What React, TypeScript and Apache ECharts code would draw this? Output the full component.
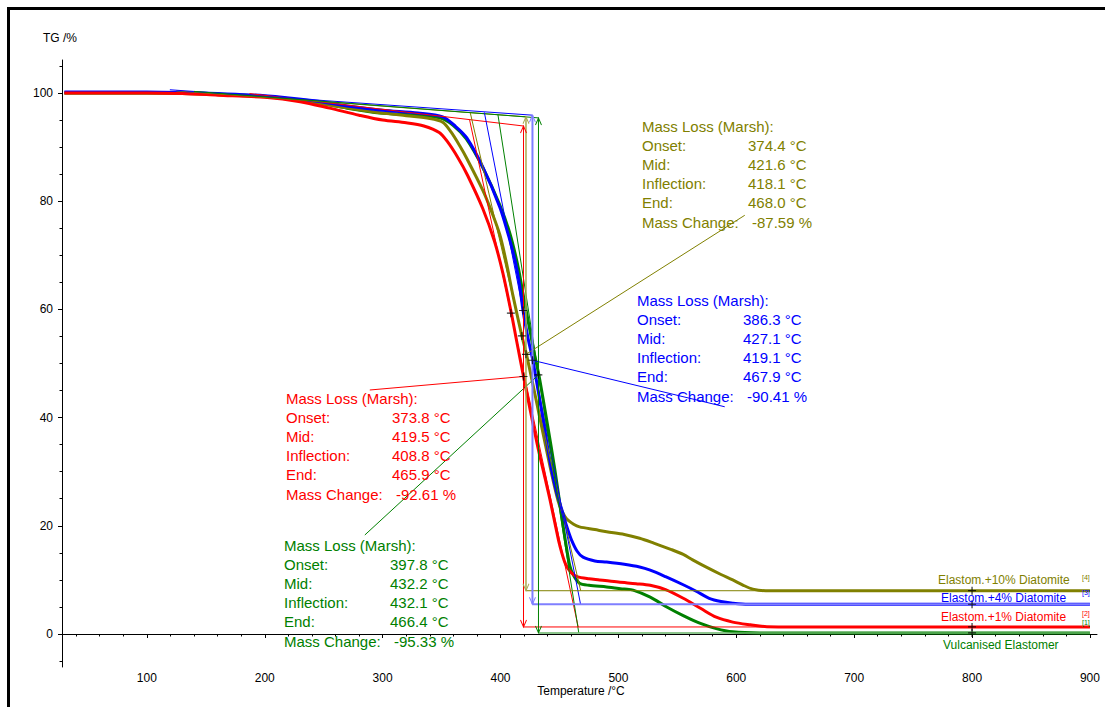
import React, { useEffect, useRef } from 'react';
import * as echarts from 'echarts';

// ---------- data ----------
const X_LABELS = [100, 200, 300, 400, 500, 600, 700, 800, 900];
const X_MINOR = [40, 60, 80, 120, 140, 160, 180, 220, 240, 260, 280, 320, 340, 360, 380, 420, 440, 460, 480, 520, 540, 560, 580, 620, 640, 660, 680, 720, 740, 760, 780, 820, 840, 860, 880];
const Y_LABELS = [0, 20, 40, 60, 80, 100];
const Y_MINOR = [-5, 5, 10, 15, 25, 30, 35, 45, 50, 55, 65, 70, 75, 85, 90, 95, 105];

// Elastom.+1% Diatomite (red)
const red: [number, number][] = [
  [30, 100.0], [100, 100.0], [130, 99.9], [160, 99.6], [200, 99.2], [230, 98.4], [255, 97.2], [280, 95.9],
  [300, 95.0], [320, 94.5], [335, 93.9], [348, 92.7], [355, 91.0], [364, 88.0], [372, 84.8], [385, 78.6],
  [395, 72.5], [402, 66.7], [409, 59.5], [414, 53.8], [419.5, 47.6], [425, 41.6], [432, 34.2], [438, 28.6],
  [442, 24.8], [447, 19.6], [450, 16.6], [455, 13.0], [460, 11.3], [465, 10.6], [475, 10.2], [484, 10.0],
  [500, 9.6], [515, 9.3], [527, 9.0], [540, 8.2], [555, 6.6], [570, 4.7], [583, 3.1], [597, 2.2],
  [612, 1.7], [626, 1.35], [650, 1.3], [900, 1.3],
];
// Elastom.+10% Diatomite (olive)
const olive: [number, number][] = [
  [30, 100.0], [100, 100.0], [130, 99.9], [160, 99.7], [200, 99.3], [230, 98.6], [260, 97.6], [290, 96.6],
  [320, 95.8], [340, 95.3], [351, 94.6], [358, 92.8], [365.5, 90.2], [371.4, 87.9], [385, 82.0], [392, 78.3],
  [399.4, 73.8], [405, 68.6], [410.7, 62.4], [418.1, 55.1], [422, 51.7], [427.6, 46.0], [433, 40.3], [440, 33.0],
  [445, 28.0], [449, 24.5], [452, 22.8], [456, 21.3], [462, 20.3], [467, 19.8], [480, 19.3], [490, 18.9], [505, 18.4],
  [518, 17.7], [530, 16.8], [545, 15.6], [555, 14.7], [563, 13.7], [575, 12.3], [587, 11.0], [597, 10.0],
  [606, 9.0], [614, 8.3], [625, 8.0], [900, 8.0],
];
// Elastom.+4% Diatomite (blue)
const blue: [number, number][] = [
  [30, 100.2], [100, 100.2], [130, 100.1], [160, 99.9], [200, 99.5], [240, 98.6], [270, 97.6], [300, 96.8],
  [330, 96.3], [351, 95.6], [362, 93.8], [371.4, 91.7], [385, 86.3], [399.4, 78.9], [407, 73.5], [412, 69.3],
  [416, 64.8], [419.1, 59.8], [423, 55.0], [427.4, 50.6], [431.6, 45.4], [437, 38.5], [443, 30.7], [448, 25.8],
  [452, 23.0], [456, 20.0], [460, 17.5], [465, 15.3], [470, 14.2], [480, 13.5], [490, 13.3], [505, 12.9],
  [518, 12.4], [527, 11.8], [540, 10.6], [555, 9.1], [566, 7.9], [577, 6.6], [587, 6.0], [597, 5.7],
  [610, 5.5], [900, 5.5],
];
// Vulcanised Elastomer (green)
const green: [number, number][] = [
  [30, 100.0], [100, 100.0], [130, 100.0], [160, 99.8], [200, 99.4], [240, 98.4], [270, 97.2], [297.6, 96.3],
  [330, 95.9], [348.5, 95.4], [360, 94.0], [371, 91.5], [385, 86.2], [399.4, 79.3], [408, 74.0], [415, 67.8],
  [419, 63.0], [424, 57.2], [428, 52.6], [432.5, 47.9], [436, 43.6], [440, 38.5], [446, 30.5], [452, 21.6],
  [455, 17.3], [458.8, 12.6], [462, 10.8], [467, 9.4], [475, 9.0], [490, 8.7], [505, 8.3], [512.5, 8.1],
  [527, 6.8], [541, 5.0], [555, 3.4], [569, 2.0], [583, 1.0], [597, 0.4], [620, 0.2], [900, 0.2],
];

// Marsh evaluation construction lines: [start, end]
const redBase: [number, number][] = [[187, 99.9], [419.5, 93.9]];
const oliveBase: [number, number][] = [[125, 100.4], [421.6, 95.6]];
const blueBase: [number, number][] = [[119.5, 100.6], [427.1, 95.9]];
const greenBase: [number, number][] = [[140, 100.3], [432.2, 95.4]];

const redTangent: [number, number][] = [[373.8, 95.0], [465.9, 1.3]];
const oliveTangent: [number, number][] = [[374.4, 96.3], [468.0, 8.0]];
const blueTangent: [number, number][] = [[386.3, 96.4], [467.9, 5.5]];
const greenTangent: [number, number][] = [[397.8, 96.0], [466.4, 0.2]];

const redStep: [number, number][] = [[419.5, 93.9], [419.5, 1.3]];
const oliveStep: [number, number][] = [[421.6, 95.6], [421.6, 8.0]];
const blueStep: [number, number][] = [[427.1, 95.9], [427.1, 5.5]];
const greenStep: [number, number][] = [[432.2, 95.4], [432.2, 0.2]];

const redFinal: [number, number][] = [[419.5, 1.3], [900, 1.3]];
const oliveFinal: [number, number][] = [[421.6, 8.0], [900, 8.0]];
const blueFinal: [number, number][] = [[427.1, 5.5], [900, 5.5]];
const greenFinal: [number, number][] = [[432.2, 0.2], [900, 0.2]];

const redLeader: [number, number][] = [[419.5, 47.6], [289.1, 45.1]];
const oliveLeader: [number, number][] = [[421.6, 51.7], [607.2, 77.4]];
const blueLeader: [number, number][] = [[427.1, 50.6], [590.2, 42.0]];
const greenLeader: [number, number][] = [[432.2, 47.9], [284.9, 18.3]];

const markers: [number, number][] = [
  [408.8, 59.3], [419.5, 47.6], [418.1, 55.1], [421.6, 51.7], [419.1, 59.8], [427.1, 50.6],
  [432.1, 47.9], [800, 8.0], [800, 5.5], [800, 1.3], [800, 0.2],
];

const ROW_LABELS = ['Mass Loss (Marsh):', 'Onset:', 'Mid:', 'Inflection:', 'End:', 'Mass Change:'];
const oliveValues = ['374.4 °C', '421.6 °C', '418.1 °C', '468.0 °C', '-87.59 %'];
const blueValues = ['386.3 °C', '427.1 °C', '419.1 °C', '467.9 °C', '-90.41 %'];
const redValues = ['373.8 °C', '419.5 °C', '408.8 °C', '465.9 °C', '-92.61 %'];
const greenValues = ['397.8 °C', '432.2 °C', '432.1 °C', '466.4 °C', '-95.33 %'];

const SERIES_NAMES = ['Elastom.+10% Diatomite', 'Elastom.+4% Diatomite', 'Elastom.+1% Diatomite', 'Vulcanised Elastomer'];

// ---------- styling ----------
const C_RED = '#ff0000';
const C_OLIVE = '#808000';
const C_BLUE = '#0000ff';
const C_GREEN = '#008000';
const FONT = '"Liberation Sans", Arial, Helvetica, sans-serif';
const ARROW = 'path://M0,7L4,0L8,7';
const PLUS = 'path://M0,4L8,4M4,0L4,8';

function txt(x: number, y: number, text: string, color: string, size = 15, align = 'left') {
  return {
    type: 'text', x, y, silent: true, z: 100,
    style: {
      text, fill: color, fontSize: size, fontFamily: FONT,
      align, verticalAlign: 'middle', textAlign: align, textVerticalAlign: 'middle',
    },
  };
}

function block(x: number, y: number, values: string[], color: string) {
  const out: any[] = [];
  const step = 19.2;
  ROW_LABELS.forEach((l, i) => out.push(txt(x, y + i * step, l, color)));
  values.forEach((v, i) => out.push(txt(x + (i === 4 ? 110 : 106), y + (i + 1) * step, v, color)));
  return out;
}

function seg(pts: [number, number][], color: string, width: number, z = 3) {
  return {
    type: 'line', data: pts, symbol: 'none', showSymbol: false, silent: true, z,
    lineStyle: { color, width }, animation: false,
  };
}

function arrow(pts: [number, number][], color: string, width: number) {
  return {
    type: 'line', silent: true, z: 4, showSymbol: true, symbol: ARROW, symbolSize: [6, 7],
    data: [
      { value: pts[0], symbolOffset: [0, 3.5] },
      { value: pts[1], symbolRotate: 180, symbolOffset: [0, -3.5] },
    ],
    itemStyle: { color: 'none', borderColor: color, borderWidth: 1 },
    lineStyle: { color, width },
  };
}

function curve(name: string, pts: [number, number][], color: string) {
  return {
    name, type: 'line', data: pts, symbol: 'none', showSymbol: false, silent: true, z: 2,
    smooth: 0.3,
    lineStyle: { color, width: 3 },
  };
}

export default function App() {
  const ref = useRef<HTMLDivElement>(null);
  useEffect(() => {
    document.body.style.margin = '0';
    const chart = echarts.init(ref.current!, null, { renderer: 'svg' });
    const axisText = { color: '#000', fontSize: 12, fontFamily: FONT };
    chart.setOption({
      animation: false,
      backgroundColor: '#ffffff',
      grid: { left: 62, right: 8, top: 60, bottom: 40 },
      xAxis: [
        {
          type: 'value', min: 28, max: 906,
          axisLine: { show: true, lineStyle: { color: '#000', width: 1 } },
          axisTick: { show: true, length: 4, customValues: X_LABELS, lineStyle: { color: '#000' } },
          axisLabel: { ...axisText, margin: 5, customValues: X_LABELS },
          splitLine: { show: false },
        },
        {
          type: 'value', min: 28, max: 906, position: 'bottom',
          axisLine: { show: false },
          axisTick: { show: true, length: 2.5, customValues: X_MINOR, lineStyle: { color: '#000' } },
          axisLabel: { show: false },
          splitLine: { show: false },
        },
      ],
      yAxis: [
        {
          type: 'value', min: -6.1, max: 106.1,
          axisLine: { show: true, lineStyle: { color: '#000', width: 1 } },
          axisTick: { show: true, length: 4, customValues: Y_LABELS, lineStyle: { color: '#000' } },
          axisLabel: { ...axisText, margin: 9, customValues: Y_LABELS },
          splitLine: { show: false },
        },
        {
          type: 'value', min: -6.1, max: 106.1, position: 'left',
          axisLine: { show: false },
          axisTick: { show: true, length: 2.5, customValues: Y_MINOR, lineStyle: { color: '#000' } },
          axisLabel: { show: false },
          splitLine: { show: false },
        },
      ],
      series: [
        curve(SERIES_NAMES[3], green, C_GREEN),
        curve(SERIES_NAMES[0], olive, C_OLIVE),
        curve(SERIES_NAMES[1], blue, C_BLUE),
        curve(SERIES_NAMES[2], red, C_RED),
        seg(redBase, C_RED, 1), seg(oliveBase, C_OLIVE, 1), seg(blueBase, C_BLUE, 1), seg(greenBase, C_GREEN, 1),
        seg(redTangent, C_RED, 1), seg(oliveTangent, C_OLIVE, 1), seg(blueTangent, C_BLUE, 1), seg(greenTangent, C_GREEN, 1),
        seg(redFinal, C_RED, 1), seg(oliveFinal, C_OLIVE, 1), seg(blueFinal, '#7f7fff', 2), seg(greenFinal, '#66b266', 1.5),
        arrow(redStep, C_RED, 1), arrow(oliveStep, '#a8a850', 1.5), arrow(blueStep, '#7f7fff', 2), arrow(greenStep, C_GREEN, 1),
        seg(redLeader, C_RED, 1), seg(oliveLeader, C_OLIVE, 1), seg(blueLeader, C_BLUE, 1), seg(greenLeader, C_GREEN, 1),
        {
          type: 'scatter', data: markers, symbol: PLUS, symbolSize: 8, silent: true, z: 10,
          itemStyle: { color: 'none', borderColor: '#000', borderWidth: 1.2 },
        },
      ],
      graphic: [
        { type: 'rect', silent: true, shape: { x: 8.5, y: 8.5, width: 1200, height: 800 }, style: { fill: 'none', stroke: '#000', lineWidth: 3 } },
        txt(43, 38, 'TG /%', '#000', 12),
        txt(581, 691, 'Temperature /°C', '#000', 12, 'center'),
        ...block(642, 126, oliveValues, C_OLIVE),
        ...block(637, 300, blueValues, C_BLUE),
        ...block(286, 398, redValues, C_RED),
        ...block(284, 545, greenValues, C_GREEN),
        txt(938, 580, SERIES_NAMES[0], C_OLIVE, 12),
        txt(941, 598, SERIES_NAMES[1], C_BLUE, 12),
        txt(941, 617, SERIES_NAMES[2], C_RED, 12),
        txt(943, 645, SERIES_NAMES[3], C_GREEN, 12),
        txt(1082, 577, '[4]', C_OLIVE, 7),
        txt(1082, 592, '[3]', C_BLUE, 7),
        txt(1082, 613, '[2]', C_RED, 7),
        txt(1082, 622, '[1]', C_GREEN, 7),
      ],
    });
    return () => chart.dispose();
  }, []);
  return <div ref={ref} style={{ width: 1105, height: 707 }} />;
}
